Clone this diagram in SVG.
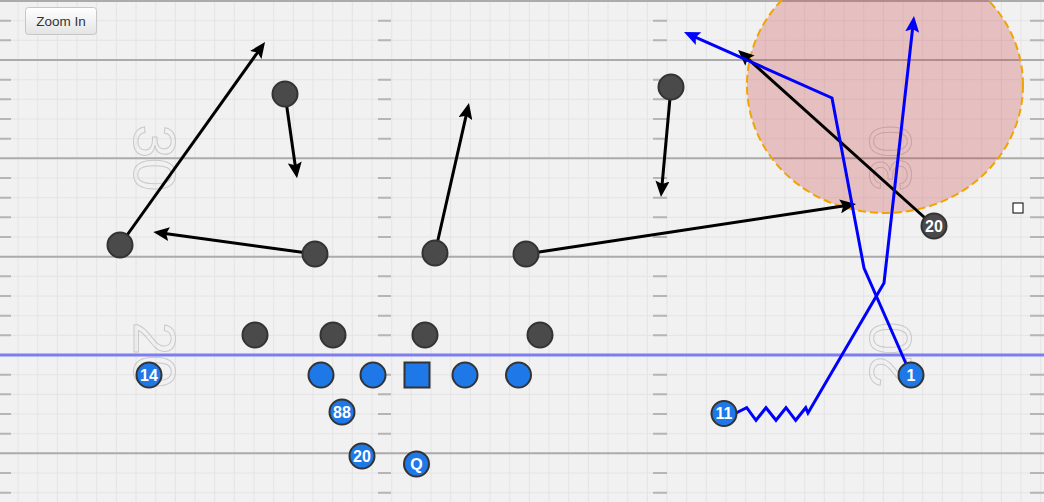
<svg xmlns="http://www.w3.org/2000/svg" width="1044" height="502" viewBox="0 0 1044 502">
<style>
.grid{stroke:#e4e4e4;stroke-width:1;fill:none}
.hash{stroke:#b5b5b5;stroke-width:2;fill:none}
.major{stroke:#ababab;stroke-width:2}
.los{stroke:#7d7df2;stroke-width:3}
.num{font-family:"Liberation Sans",Arial,sans-serif;font-size:60px;fill:none;stroke:#c9c9c9;stroke-width:1;text-anchor:middle}
.def{fill:#4a4a4a;stroke:#333;stroke-width:2}
.off{fill:#1f78e8;stroke:#333;stroke-width:2}
.lbl{font-family:"Liberation Sans",Arial,sans-serif;font-size:16px;font-weight:bold;fill:#fff;text-anchor:middle}
.rt-k{stroke:#000;stroke-width:3;fill:none;marker-end:url(#ak)}
.rt-b{stroke:#0000ff;stroke-width:3;fill:none;stroke-linejoin:miter}
</style>
<defs>
<linearGradient id="btn" x1="0" y1="0" x2="0" y2="1">
<stop offset="0" stop-color="#ffffff"/><stop offset="1" stop-color="#e4e4e4"/>
</linearGradient>
<marker id="ak" viewBox="0 0 16 14" refX="8" refY="7" markerWidth="16" markerHeight="14" markerUnits="userSpaceOnUse" orient="auto">
<path d="M0,0 L16,7 L0,14 L3,7 z" fill="#000"/>
</marker>
<marker id="ab" viewBox="0 0 16 14" refX="8" refY="7" markerWidth="16" markerHeight="14" markerUnits="userSpaceOnUse" orient="auto">
<path d="M0,0 L16,7 L0,14 L3,7 z" fill="#0000ff"/>
</marker>
</defs>
<rect width="1044" height="502" fill="#f1f1f1"/>
<g id="field">
<path class="grid" d="M18 0V502M37.7 0V502M57.3 0V502M77 0V502M96.7 0V502M116.3 0V502M136 0V502M155.7 0V502M175.3 0V502M195 0V502M214.7 0V502M234.3 0V502M254 0V502M273.7 0V502M293.3 0V502M313 0V502M332.7 0V502M352.3 0V502M372 0V502M391.7 0V502M411.3 0V502M431 0V502M450.7 0V502M470.3 0V502M490 0V502M509.7 0V502M529.3 0V502M549 0V502M568.7 0V502M588.3 0V502M608 0V502M627.7 0V502M647.3 0V502M667 0V502M686.7 0V502M706.3 0V502M726 0V502M745.7 0V502M765.3 0V502M785 0V502M804.7 0V502M824.3 0V502M844 0V502M863.7 0V502M883.3 0V502M903 0V502M922.7 0V502M942.3 0V502M962 0V502M981.7 0V502M1001.3 0V502M1021 0V502M1040.7 0V502
M0 20.7H1044M0 40.3H1044M0 79.7H1044M0 99.3H1044M0 119H1044M0 138.7H1044M0 178H1044M0 197.7H1044M0 217.3H1044M0 237H1044M0 276.3H1044M0 296H1044M0 315.7H1044M0 335.3H1044M0 374.7H1044M0 394.3H1044M0 414H1044M0 433.7H1044M0 473H1044M0 492.7H1044"/>
<path class="hash" d="M0 20.7h11M378 20.7h13M653 20.7h14M1030 20.7h14
M0 40.3h11M378 40.3h13M653 40.3h14M1030 40.3h14
M0 79.7h11M378 79.7h13M653 79.7h14M1030 79.7h14
M0 99.3h11M378 99.3h13M653 99.3h14M1030 99.3h14
M0 119h11M378 119h13M653 119h14M1030 119h14
M0 138.7h11M378 138.7h13M653 138.7h14M1030 138.7h14
M0 178h11M378 178h13M653 178h14M1030 178h14
M0 197.7h11M378 197.7h13M653 197.7h14M1030 197.7h14
M0 217.3h11M378 217.3h13M653 217.3h14M1030 217.3h14
M0 237h11M378 237h13M653 237h14M1030 237h14
M0 276.3h11M378 276.3h13M653 276.3h14M1030 276.3h14
M0 296h11M378 296h13M653 296h14M1030 296h14
M0 315.7h11M378 315.7h13M653 315.7h14M1030 315.7h14
M0 335.3h11M378 335.3h13M653 335.3h14M1030 335.3h14
M0 374.7h11M378 374.7h13M653 374.7h14M1030 374.7h14
M0 394.3h11M378 394.3h13M653 394.3h14M1030 394.3h14
M0 414h11M378 414h13M653 414h14M1030 414h14
M0 433.7h11M378 433.7h13M653 433.7h14M1030 433.7h14
M0 473h11M378 473h13M653 473h14M1030 473h14
M0 492.7h11M378 492.7h13M653 492.7h14M1030 492.7h14"/>
<line class="major" x1="0" y1="1" x2="1044" y2="1"/>
<line class="major" x1="0" y1="60" x2="1044" y2="60"/>
<line class="major" x1="0" y1="158.3" x2="1044" y2="158.3"/>
<line class="major" x1="0" y1="256.7" x2="1044" y2="256.7"/>
<line class="major" x1="0" y1="453.3" x2="1044" y2="453.3"/>
<text class="num" transform="translate(155.5,158) rotate(90)" x="0" y="21.5">30</text>
<text class="num" transform="translate(155.5,355) rotate(90)" x="0" y="21.5">20</text>
<text class="num" transform="translate(889.5,158) rotate(-90)" x="0" y="21.5">30</text>
<text class="num" transform="translate(889.5,355) rotate(-90)" x="0" y="21.5">20</text>
<line class="los" x1="0" y1="355" x2="1044" y2="355"/>
</g>
<g id="zone">
<ellipse cx="885" cy="85" rx="138" ry="128" fill="rgba(200,48,48,0.25)" stroke="#f0a400" stroke-width="2" stroke-dasharray="8 4"/>
</g>
<g id="zoom-button">
<rect x="25.5" y="7.5" width="71" height="27" rx="3" fill="url(#btn)" stroke="#c6c6c6"/>
<text x="61" y="25.5" font-family="Liberation Sans,Arial,sans-serif" font-size="13.5" fill="#333" text-anchor="middle">Zoom In</text>
</g>
<g id="connectors">
<path class="rt-k" d="M120 245L260.4 48.5"/>
<path class="rt-k" d="M285 94L295.9 170.3"/>
<path class="rt-k" d="M315 254L161.2 233"/>
<path class="rt-k" d="M435 253L467.2 110.8"/>
<path class="rt-k" d="M526 254L848.1 205.2"/>
<path class="rt-k" d="M671 87L661.7 189"/>
<path class="rt-k" d="M934 226L744 55.3"/>
<path class="rt-b" marker-end="url(#ab)" d="M911 375L864 268L832 98L691.3 35.3"/>
<path class="rt-b" marker-end="url(#ab)" d="M735 413.5L746.7 407.7L756 420.3L766 407.7L776 420.3L786 407.7L795.7 420.3L805.7 407.7L808 413L884 283L913.1 24"/>
</g>
<g id="defense">
<circle id="d1" class="def" cx="120" cy="245" r="12.5"/>
<circle id="d2" class="def" cx="285" cy="94" r="12.5"/>
<circle id="d3" class="def" cx="315" cy="254" r="12.5"/>
<circle id="d4" class="def" cx="435" cy="253" r="12.5"/>
<circle id="d5" class="def" cx="526" cy="254" r="12.5"/>
<circle id="d6" class="def" cx="671" cy="87" r="12.5"/>
<circle id="d7" class="def" cx="255" cy="335" r="12.5"/>
<circle id="d8" class="def" cx="333" cy="335" r="12.5"/>
<circle id="d9" class="def" cx="425" cy="335" r="12.5"/>
<circle id="d10" class="def" cx="540" cy="335" r="12.5"/>
<g id="d20"><circle class="def" cx="934" cy="226" r="12.5"/><text class="lbl" x="934" y="231.8">20</text></g>
</g>
<g id="offense">
<g id="o14"><circle class="off" cx="149" cy="375" r="12.5" stroke="#000" stroke-width="2.5"/><text class="lbl" x="149" y="380.8">14</text></g>
<circle id="o-lt" class="off" cx="321" cy="375" r="12.5"/>
<circle id="o-lg" class="off" cx="373" cy="375" r="12.5"/>
<rect id="o-c" class="off" x="404.5" y="362.5" width="25" height="25"/>
<circle id="o-rg" class="off" cx="465" cy="375" r="12.5"/>
<circle id="o-rt" class="off" cx="518.5" cy="375" r="12.5"/>
<g id="o88"><circle class="off" cx="342" cy="412" r="12.5"/><text class="lbl" x="342" y="417.8">88</text></g>
<g id="o20"><circle class="off" cx="362" cy="456" r="12.5"/><text class="lbl" x="362" y="461.8">20</text></g>
<g id="oQ"><circle class="off" cx="416.5" cy="464" r="12.5"/><text class="lbl" x="416.5" y="469.8">Q</text></g>
<g id="o11"><circle class="off" cx="724" cy="413.5" r="12.5"/><text class="lbl" x="724" y="419.3">11</text></g>
<g id="o1"><circle class="off" cx="911" cy="375" r="12.5"/><text class="lbl" x="911" y="380.8">1</text></g>
</g>
<g id="handle">
<rect x="1013" y="203" width="10" height="10" fill="#fff" stroke="#000" stroke-width="1"/>
</g>
</svg>
